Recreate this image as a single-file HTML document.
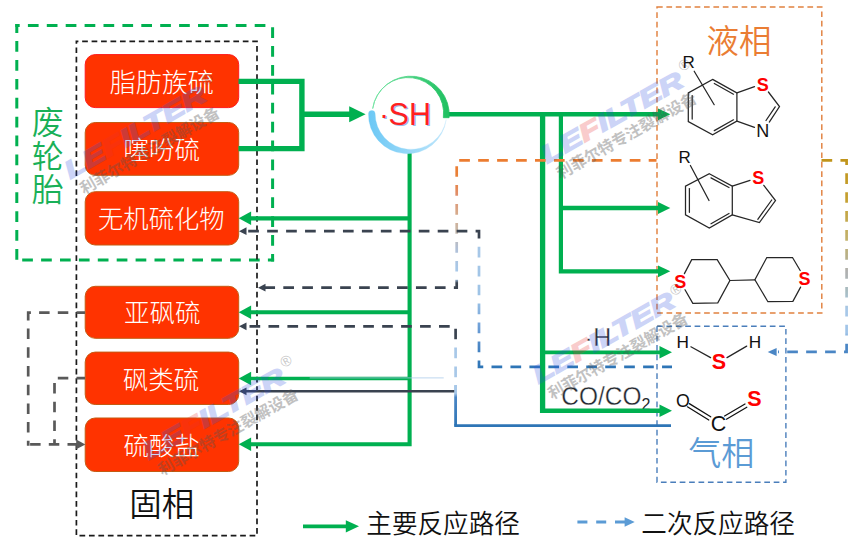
<!DOCTYPE html>
<html lang="zh">
<head>
<meta charset="utf-8">
<title>废轮胎硫反应路径</title>
<style>
html,body{margin:0;padding:0;background:#fff;}
body{width:863px;height:548px;overflow:hidden;position:relative;}
svg{position:absolute;left:0;top:0;display:block;}
text{font-family:"Liberation Sans","Noto Sans CJK SC",sans-serif;}
.cjk{font-family:"Liberation Sans","Noto Sans CJK SC",sans-serif;}
.bx{fill:#ff3300;stroke:#c55a11;stroke-width:1;}
.bt{fill:#fff;font-size:25.5px;font-weight:300;text-anchor:middle;}
.g{stroke:#00b050;fill:none;}
.gf{fill:#00b050;stroke:none;}
.mol{stroke:#262626;stroke-width:1.25;fill:none;stroke-linecap:round;}
.at{font-size:17px;fill:#111;text-anchor:middle;}
.as{font-size:18px;font-weight:bold;fill:#ff0000;text-anchor:middle;}
.wl{font-size:24.5px;font-weight:bold;font-style:italic;fill:#3050e0;stroke:#3050e0;stroke-width:1.4;opacity:0.24;}
.wf{fill:#e83030;stroke:#e83030;}
.wr{font-size:15px;fill:#555;opacity:0.33;}
.ws{font-size:15.8px;fill:#555;font-weight:bold;opacity:0.36;}
</style>
</head>
<body>
<svg width="863" height="548" viewBox="0 0 863 548">
<defs>
  <linearGradient id="gA" gradientUnits="userSpaceOnUse" x1="0" y1="160" x2="0" y2="288">
    <stop offset="0" stop-color="#ec7c30"/>
    <stop offset="0.15" stop-color="#e8823a"/>
    <stop offset="0.28" stop-color="#e09070"/>
    <stop offset="0.4" stop-color="#d8a888"/>
    <stop offset="0.55" stop-color="#c8b8a8"/>
    <stop offset="0.7" stop-color="#b0c0d8"/>
    <stop offset="0.85" stop-color="#a8c8e8"/>
    <stop offset="0.93" stop-color="#a8c8e8"/>
    <stop offset="0.96" stop-color="#3a4350"/>
    <stop offset="1" stop-color="#3a4350"/>
  </linearGradient>
  <linearGradient id="gB" gradientUnits="userSpaceOnUse" x1="0" y1="231" x2="0" y2="367">
    <stop offset="0" stop-color="#3a4350"/>
    <stop offset="0.055" stop-color="#3a4350"/>
    <stop offset="0.1" stop-color="#a8c8e8"/>
    <stop offset="0.5" stop-color="#9dc3e6"/>
    <stop offset="0.7" stop-color="#6fa0d8"/>
    <stop offset="0.85" stop-color="#4a86c5"/>
    <stop offset="1" stop-color="#2e75b6"/>
  </linearGradient>
  <linearGradient id="gC" gradientUnits="userSpaceOnUse" x1="0" y1="326" x2="0" y2="392">
    <stop offset="0" stop-color="#3a4350"/>
    <stop offset="0.2" stop-color="#3a4350"/>
    <stop offset="0.3" stop-color="#a8c8e8"/>
    <stop offset="1" stop-color="#a8c8e8"/>
  </linearGradient>
  <linearGradient id="gD" gradientUnits="userSpaceOnUse" x1="0" y1="385" x2="0" y2="426">
    <stop offset="0" stop-color="#a8c8e8"/>
    <stop offset="0.2" stop-color="#a8c8e8"/>
    <stop offset="0.3" stop-color="#4a86c5"/>
    <stop offset="1" stop-color="#2e75b6"/>
  </linearGradient>
  <linearGradient id="gE" gradientUnits="userSpaceOnUse" x1="0" y1="160" x2="0" y2="352">
    <stop offset="0" stop-color="#c0941a"/>
    <stop offset="0.2" stop-color="#c5a030"/>
    <stop offset="0.42" stop-color="#c2b26e"/>
    <stop offset="0.5" stop-color="#b8b088"/>
    <stop offset="0.58" stop-color="#b0b0b0"/>
    <stop offset="0.68" stop-color="#a8bcc0"/>
    <stop offset="0.78" stop-color="#a8c8e8"/>
    <stop offset="0.9" stop-color="#a0c4e8"/>
    <stop offset="0.96" stop-color="#4a86c5"/>
    <stop offset="1" stop-color="#4a86c5"/>
  </linearGradient>
  <linearGradient id="gG" x1="0" y1="0" x2="1" y2="0">
    <stop offset="0" stop-color="#6fe3a0"/>
    <stop offset="1" stop-color="#1fc060"/>
  </linearGradient>
  <linearGradient id="gBl" x1="0" y1="0" x2="1" y2="0">
    <stop offset="0" stop-color="#6cc8f5"/>
    <stop offset="1" stop-color="#bfe6fb"/>
  </linearGradient>
</defs>

<!-- outer dashed frames -->
<g fill="none" stroke="#00b050" stroke-width="3" stroke-dasharray="10.7 8.2">
  <path d="M15.3 25.5 H266" stroke-dashoffset="6.3"/>
  <path d="M16.8 24 V260" stroke-dashoffset="1.8"/>
  <path d="M272.6 27.2 V261.4"/>
  <path d="M22.2 259.9 H274.1"/>
</g>
<rect x="76.4" y="41.3" width="180.6" height="494.4" fill="none" stroke="#1a1a1a" stroke-width="1.7" stroke-dasharray="5.7 3.75" stroke-dashoffset="3.7"/>
<rect x="657" y="7" width="164.8" height="306" fill="none" stroke="#e1813f" stroke-width="1.45" stroke-dasharray="5.7 3.7"/>
<rect x="657" y="326.2" width="128.9" height="156" fill="none" stroke="#4a7ebb" stroke-width="1.4" stroke-dasharray="5.7 3.7"/>

<!-- red boxes -->
<rect class="bx" style="stroke:#ff1a1a" x="85.2" y="54.6" width="153.5" height="53" rx="10"/>
<rect class="bx" x="85.2" y="122.5" width="153.5" height="52.8" rx="10"/>
<rect class="bx" x="85.2" y="191.7" width="153.5" height="53.3" rx="10"/>
<rect class="bx" x="85.2" y="286.3" width="153.5" height="52" rx="10"/>
<rect class="bx" x="85.2" y="352.1" width="153.5" height="52.4" rx="10"/>
<rect class="bx" x="85.2" y="418" width="153.5" height="53.5" rx="10"/>
<text class="bt" style="font-size:26px" x="161.8" y="91.6">脂肪族硫</text>
<text class="bt" x="161.8" y="159">噻吩硫</text>
<text class="bt" style="font-size:25.3px" x="161.3" y="227.5">无机硫化物</text>
<text class="bt" x="162.2" y="322">亚砜硫</text>
<text class="bt" x="161" y="389">砜类硫</text>
<text class="bt" x="161.8" y="455">硫酸盐</text>

<!-- labels -->
<text x="47.7" y="134.2" font-size="32" font-weight="350" fill="#19b058" text-anchor="middle">废</text>
<text x="47.7" y="167.6" font-size="32" font-weight="350" fill="#19b058" text-anchor="middle">轮</text>
<text x="47.7" y="201" font-size="32" font-weight="350" fill="#19b058" text-anchor="middle">胎</text>
<text x="161.7" y="516" font-size="32.5" font-weight="350" fill="#111" text-anchor="middle">固相</text>
<text x="739" y="52.5" font-size="32.5" font-weight="350" fill="#ea7d33" text-anchor="middle">液相</text>
<text x="721.3" y="464.5" font-size="33" font-weight="350" fill="#5b9bd5" text-anchor="middle">气相</text>
<text x="584.8" y="345.9" font-size="25" fill="#23272e" stroke="#fff" stroke-width="0.35"><tspan font-weight="bold" font-size="17" dx="1.4" dy="-1">·</tspan><tspan dx="1.3" dy="1">H</tspan></text>
<text transform="translate(561.3,404.9) scale(0.945,1)" font-size="25.9" fill="#23272e" stroke="#fff" stroke-width="0.35">CO/CO<tspan font-size="17" dy="4.6" stroke="none">2</tspan></text>

<!-- main green paths -->
<g class="g" stroke-width="4">
  <path d="M238.5 81.4 H301.9 V148.6 H238.5" stroke-width="5.4"/>
  <path d="M301.9 114.2 H352" stroke-width="5.6"/>
  <path d="M448 114.3 H660" stroke-width="4.6"/>
  <path d="M542.6 114.3 V413.1" stroke-width="5.3"/><path d="M540 410.8 H661" stroke-width="4.6"/>
  <path d="M542.3 352.4 H661" stroke-width="3.9"/>
  <path d="M560.9 114.3 V271.3 H660" stroke-width="4.2"/>
  <path d="M560.9 208 H660" stroke-width="4.3"/>
  <path d="M409.6 152 V444.3 H248" stroke-width="4.1"/>
  <path d="M409.6 218.3 H248" stroke-width="4.3"/>
  <path d="M409.6 312.3 H248" stroke-width="4"/>
  <path d="M409.6 378.5 H248" stroke-width="3.7"/>
</g>
<g class="gf">
  <path d="M365.6 114.2 L349.2 106.2 V122.2 Z"/>
  <path d="M670.4 114.3 L658 108.4 V120.2 Z"/>
  <path d="M670.3 208 L658 202.1 V213.9 Z"/>
  <path d="M670.3 271.3 L658 265.4 V277.2 Z"/>
  <path d="M672 352.3 L659.5 346 V358.6 Z"/>
  <path d="M672 410.8 L659.5 404.5 V417.1 Z"/>
  <path d="M238.7 218.3 L251.1 211.5 V225.1 Z"/>
  <path d="M238.7 312.3 L251.1 305.5 V319.1 Z"/>
  <path d="M238.7 378.5 L251.1 371.7 V385.3 Z"/>
  <path d="M238.7 444.3 L251.1 437.5 V451.1 Z"/>
</g>

<!-- SH circle -->
<path d="M372.7 108.6 A38.5 38.5 0 0 1 449.1 117.7 L443.35 117.7 A35.6 35.6 0 0 0 372.7 108.6 Z" fill="url(#gG)" stroke="url(#gG)" stroke-width="0.8"/>
<path d="M368.52 113.44 A39 39 0 0 0 446.2 119.55 A35.8 35.8 0 0 1 375.1 113.44 A3.3 3.3 0 0 0 368.52 113.44 Z" fill="url(#gBl)" stroke="url(#gBl)" stroke-width="0.3"/>
<text x="379.7" y="126.3" font-size="30.5" fill="#9dbbe8"><tspan font-weight="bold" font-size="20" dx="2.8" dy="-2.1">·</tspan><tspan dx="0.7" dy="2.1">SH</tspan></text>
<text x="378.4" y="125" font-size="30.5" fill="#ff2020"><tspan font-weight="bold" font-size="20" dx="2.8" dy="-2.1">·</tspan><tspan dx="0.7" dy="2.1">SH</tspan></text>

<!-- secondary dashed / gradient paths -->
<g fill="none" stroke-width="2.7" stroke-dasharray="10.7 8.25">
  <path d="M656.5 160.4 H456.7 V287.7 H264" stroke="url(#gA)" stroke-dashoffset="2.9"/>
  <path d="M246 231.2 H479 V366.9 H672" stroke="url(#gB)" stroke-dashoffset="16.75"/>
  <path d="M246 326.3 H455.6 V392" stroke="url(#gC)" stroke-dashoffset="15.45"/>
  <path d="M821.5 160.4 H846.6 V351.9 H778" stroke="url(#gE)"/>
</g>
<g fill="none" stroke-width="2.8">
  <path d="M246 391.3 H456.9" stroke="#3a4350" stroke-width="2.4"/>
  <path d="M455.6 385 V425.6" stroke="url(#gD)"/>
  <path d="M454.2 425.6 H671" stroke="#2e75b6"/>
  <path d="M309.7 377.9 H443.7" stroke="#a9cbea" stroke-width="0.9" opacity="0.85"/>
</g>
<g fill="#3a4350">
  <path d="M258 287.7 L265.5 283.8 V291.6 Z"/>
  <path d="M239 231.2 L246.5 227.3 V235.1 Z"/>
  <path d="M239 326.3 L246.5 322.4 V330.2 Z"/>
  <path d="M239 391.3 L246.5 387.4 V395.2 Z"/>
</g>
<path d="M767.7 351.9 L776.6 347.9 V355.9 Z" fill="#4a86c5"/>

<!-- left grey dashed loop -->
<g fill="none" stroke="#595959" stroke-width="2.7" stroke-dasharray="10.5 8.2">
  <path d="M85 312.6 H28.2 V445.7" stroke-dashoffset="2"/>
  <path d="M78 444.4 H26.9"/>
  <path d="M85 378.2 H54.5 V444.4" stroke-dashoffset="2"/>
</g>
<path d="M85.4 444.4 L76.2 439.6 V449.2 Z" fill="#595959"/>

<!-- molecules -->
<g class="mol">
  <!-- benzothiazole -->
  <path d="M712.6 79.4 L736.9 92.9 V121.1 L712.6 134.8 L688.3 121.6 V92.9 Z"/>
  <path d="M692.2 95.5 V119"/>
  <path d="M714.3 83.5 L733.5 94.2"/>
  <path d="M714.3 130.6 L733.5 119.8"/>
  <path d="M736.9 92.9 L754.5 86.6"/>
  <path d="M768.4 92 L779.5 106.5 L769.3 122.1"/>
  <path d="M775.2 106.8 L766 120.5"/>
  <path d="M754.5 127.4 L736.9 121.1"/>
  <path d="M694.2 71.2 L714.2 104.7"/>
  <!-- benzothiophene -->
  <path d="M709.3 173.8 L732.3 186.1 V214.8 L709.3 228 L685.5 214.8 V186.1 Z"/>
  <path d="M689.4 188.5 V212.3"/>
  <path d="M711 177.9 L729 187.5"/>
  <path d="M711 223.8 L729 213.5"/>
  <path d="M732.3 186.1 L750 180.3"/>
  <path d="M763.8 185.3 L775.5 200.5 L759.4 222.6 L732.3 214.8"/>
  <path d="M771.7 200 L757.8 219.3"/>
  <path d="M690.4 165.5 L709 200.5"/>
  <!-- bis-thiane -->
  <path d="M684.4 273.6 L691.7 259.6 H717.2 L729.9 280.5 L717.8 302.8 L692.8 303.4 L685 289.7"/>
  <path d="M729.9 280.5 L754.9 279.8"/>
  <path d="M800.2 270.5 L792.5 257.5 H766.8 L754.9 279.8 L767.9 301.7 L792.9 301.3 L800.6 287.1"/>
  <!-- H2S -->
  <path d="M690.9 346.8 L710.6 357.6"/>
  <path d="M727 357.6 L746.7 346.1"/>
</g>
<g class="mol" stroke-width="1.6" style="stroke:#111">
  <!-- COS -->
  <path d="M689.3 403.6 L710.7 416.8"/>
  <path d="M687.4 406.8 L708.8 420"/>
  <path d="M724.6 416 L745 404"/>
  <path d="M726.4 419.2 L746.8 407.2"/>
</g>
<text class="at" x="688.7" y="67.8">R</text>
<text class="as" x="762.7" y="90.8">S</text>
<text class="at" x="762.7" y="136.6" style="font-size:18px">N</text>
<text class="at" x="684.6" y="162.5">R</text>
<text class="as" x="758.3" y="184">S</text>
<text class="as" x="680.2" y="287.8">S</text>
<text class="as" x="804.4" y="284.9">S</text>
<text class="at" x="682.7" y="347.8" style="font-size:17.2px">H</text>
<text class="at" x="754.9" y="347.8" style="font-size:17.2px">H</text>
<text class="as" x="718.8" y="369.4" style="font-size:21.5px">S</text>
<text class="at" x="683" y="407.4" style="font-size:17.8px">O</text>
<text class="at" x="718.5" y="430.6" style="font-size:21.5px">C</text>
<text class="as" x="754.3" y="406" style="font-size:21.5px">S</text>

<!-- legend -->
<path d="M303 526.3 H348" stroke="#00b050" stroke-width="3.8" fill="none"/>
<path d="M359 526.3 L345.8 520.2 V532.4 Z" fill="#00b050"/>
<text x="366.3" y="533.2" font-size="25.6" font-weight="350" fill="#111">主要反应路径</text>
<path d="M577.4 522 H626" stroke="#5b9bd5" stroke-width="3" stroke-dasharray="10 8.8" fill="none"/>
<path d="M634.7 522 L624.6 517.2 V526.8 Z" fill="#5b9bd5"/>
<text x="641.3" y="533.2" font-size="25.6" font-weight="350" fill="#111">二次反应路径</text>

<!-- watermarks -->
<g transform="translate(70.3,179.2) rotate(-29.9)"><text class="wl" transform="scale(1.38,1)" x="0" y="0">LE<tspan class="wf">F</tspan>ILTER</text><text class="wr" x="162.7" y="-13.3">®</text><text class="ws" x="4" y="20.3">利菲尔特专注裂解设备</text></g>
<g transform="translate(547,163.7) rotate(-29.5)"><text class="wl" transform="scale(1.38,1)" x="0" y="0">LE<tspan class="wf">F</tspan>ILTER</text><text class="wr" x="162.7" y="-13.3">®</text><text class="ws" x="4" y="20.3">利菲尔特专注裂解设备</text></g>
<g transform="translate(148.7,460) rotate(-29.5)"><text class="wl" transform="scale(1.38,1)" x="0" y="0">LE<tspan class="wf">F</tspan>ILTER</text><text class="wr" x="162.7" y="-13.3">®</text><text class="ws" x="4" y="20.3">利菲尔特专注裂解设备</text></g>
<g transform="translate(538.4,384.1) rotate(-29.5)"><text class="wl" transform="scale(1.38,1)" x="0" y="0">LE<tspan class="wf">F</tspan>ILTER</text><text class="wr" x="160.7" y="-9.8">®</text><text class="ws" x="4" y="20.3">利菲尔特专注裂解设备</text></g>
</svg>
</body>
</html>
